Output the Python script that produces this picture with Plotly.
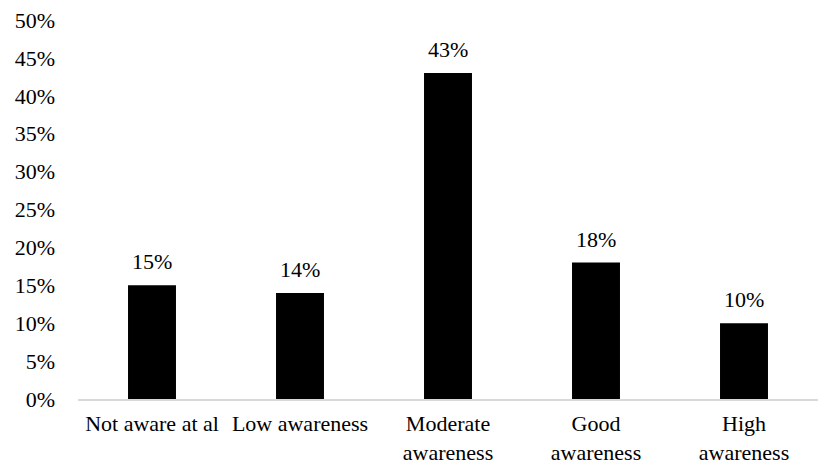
import plotly.graph_objects as go

categories = ["Not aware at al", "Low awareness", "Moderate<br>awareness",
              "Good<br>awareness", "High<br>awareness"]
values = [15, 14, 43, 18, 10]
tick_vals = list(range(0, 55, 5))
tick_text = [f"{v}%" for v in tick_vals]

FONT = "Liberation Serif"
SIZE = 22

fig = go.Figure(go.Bar(
    x=categories,
    y=values,
    marker=dict(color="#000000", line=dict(width=0)),
    hoverinfo="skip",
))

# value labels above each bar
for c, v in zip(categories, values):
    fig.add_annotation(
        x=c, y=v, text=f"{v}%", showarrow=False,
        yanchor="bottom", yshift=9,
        font=dict(family=FONT, size=SIZE, color="#000000"),
    )

fig.update_layout(
    width=826, height=465,
    margin=dict(l=78, r=8, t=20, b=66),
    paper_bgcolor="white", plot_bgcolor="white",
    bargap=0.676,
    showlegend=False,
    font=dict(family=FONT, size=SIZE, color="#000000"),
)
fig.update_xaxes(
    automargin=False,
    showline=True, linecolor="#d9d9d9", linewidth=1.5,
    showgrid=False, ticks="", ticklabelstandoff=4,
    tickfont=dict(family=FONT, size=SIZE, color="#000000"),
)
fig.update_yaxes(
    automargin=False,
    range=[0, 50], tickvals=tick_vals, ticktext=tick_text,
    showline=False, showgrid=False, zeroline=False,
    ticks="", ticklabelstandoff=22,
    tickfont=dict(family=FONT, size=SIZE, color="#000000"),
)

fig.write_html("out.html")
